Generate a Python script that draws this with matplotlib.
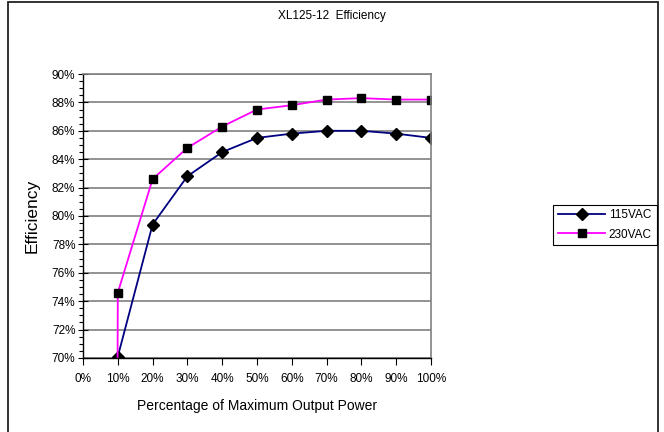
import matplotlib
matplotlib.use("Agg")
import matplotlib.pyplot as plt
from matplotlib.ticker import MultipleLocator, FuncFormatter
from matplotlib.patches import Rectangle

plt.rcParams['font.family'] = ['Liberation Sans', 'DejaVu Sans']

# load fraction and efficiency readings
load_115 = [0.1, 0.2, 0.3, 0.4, 0.5, 0.6, 0.7, 0.8, 0.9, 1.0]
eff_115 = [0.701, 0.794, 0.828, 0.845, 0.855, 0.858, 0.860, 0.860, 0.858, 0.855]
load_230 = [0.098, 0.1, 0.2, 0.3, 0.4, 0.5, 0.6, 0.7, 0.8, 0.9, 1.0]
eff_230 = [0.60, 0.746, 0.826, 0.848, 0.863, 0.875, 0.878, 0.882, 0.883, 0.882, 0.882]

x_ticks = [i / 10 for i in range(11)]
y_ticks = [0.70, 0.72, 0.74, 0.76, 0.78, 0.80, 0.82, 0.84, 0.86, 0.88, 0.90]

fig = plt.figure(figsize=(6.64, 4.32), dpi=100)
ax = fig.add_axes([83/664, 1-358/432, (431-83)/664, (358-74)/432])

pct = FuncFormatter(lambda v, p: f"{v*100:.0f}%")

ax.plot(load_115, eff_115, '-', color='#000080', lw=1.3, marker='D', ms=5.8,
        mfc='black', mec='black', label='115VAC')
ax.plot(load_230, eff_230, '-', color='#FF00FF', lw=1.3, marker='s', ms=6,
        mfc='black', mec='black', label='230VAC')

ax.set_xlim(0, 1)
ax.set_ylim(0.70, 0.90)
ax.set_xticks(x_ticks)
ax.set_yticks(y_ticks)
ax.yaxis.set_minor_locator(MultipleLocator(0.005))
ax.xaxis.set_major_formatter(pct)
ax.yaxis.set_major_formatter(pct)
ax.tick_params(axis='x', direction='out', length=5, width=0.8, labelsize=8.5, pad=6)
ax.tick_params(axis='y', which='major', direction='inout', length=7, width=0.8, labelsize=8.5, pad=2)
ax.tick_params(axis='y', which='minor', direction='out', length=3, width=0.8)
ax.grid(axis='y', color='#808080', lw=1.2)
ax.set_axisbelow(True)
for s in ['top', 'right']:
    ax.spines[s].set_color('#808080')
    ax.spines[s].set_linewidth(1.2)
for s in ['left', 'bottom']:
    ax.spines[s].set_color('black')
    ax.spines[s].set_linewidth(1.0)

ax.set_xlabel('Percentage of Maximum Output Power', fontsize=10, labelpad=10)
ax.set_ylabel('Efficiency', fontsize=12.5, labelpad=9)
fig.text(332/664, 1-16/432, 'XL125-12  Efficiency', ha='center', va='center', fontsize=8.5)

leg = fig.legend(loc='center', bbox_to_anchor=(605/664, 1-225/432), fontsize=8.5,
                 frameon=True, fancybox=False, edgecolor='black', framealpha=1,
                 handlelength=4, handletextpad=0.3, borderpad=0.4, labelspacing=0.6)
leg.get_frame().set_linewidth(0.8)

fig.patches.append(Rectangle((8/664, -0.05), (658-8)/664, 1.05-2/432,
                             transform=fig.transFigure, fill=False,
                             edgecolor='#222222', lw=1.3))

fig.savefig('out.png', dpi=100)
